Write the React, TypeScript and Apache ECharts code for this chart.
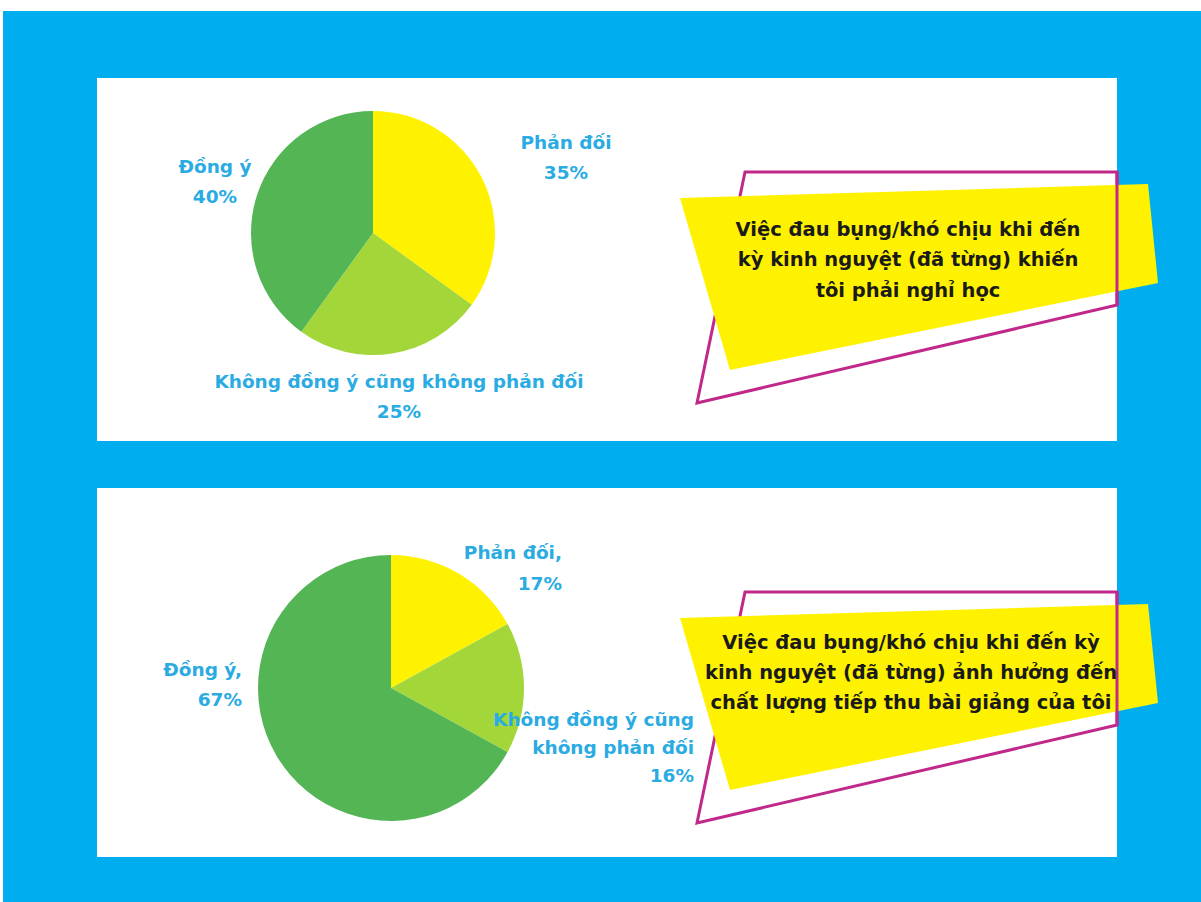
import React, { useEffect, useRef } from "react";
import * as echarts from "echarts";

const categories = ["Phản đối", "Không đồng ý cũng không phản đối", "Đồng ý"];
const values1 = [35, 25, 40];
const values2 = [17, 16, 67];
const labels1 = ["Phản đối", "Không đồng ý cũng không phản đối", "Đồng ý"];
const labels2 = ["Phản đối,", "Không đồng ý cũng\nkhông phản đối", "Đồng ý,"];
const titles = [
  ["Việc đau bụng/khó chịu khi đến", "kỳ kinh nguyệt (đã từng) khiến", "tôi phải nghỉ học"],
  ["Việc đau bụng/khó chịu khi đến kỳ", "kinh nguyệt (đã từng) ảnh hưởng đến", "chất lượng tiếp thu bài giảng của tôi"],
];
const colors = ["#FFF200", "#A3D739", "#53B554"];

const FONT = "'DejaVu Sans', sans-serif";
const LABEL_COLOR = "#2AABE2";
const MAGENTA = "#C0288A";

function callout(dy: number, lines: string[], cx: number, y0: number, lh: number) {
  return [
    {
      type: "polygon",
      z: 1,
      shape: { points: [[745, 172 + dy], [1117, 172 + dy], [1117, 305 + dy], [697, 403 + dy]] },
      style: { fill: "none", stroke: MAGENTA, lineWidth: 3 },
    },
    {
      type: "polygon",
      z: 2,
      shape: { points: [[680, 198 + dy], [1148, 184 + dy], [1158, 283 + dy], [730, 370 + dy]] },
      style: { fill: "#FFF200" },
    },
    {
      type: "line",
      z: 3,
      shape: { x1: 1117, y1: 172 + dy, x2: 1117, y2: 305 + dy },
      style: { stroke: MAGENTA, lineWidth: 3 },
    },
    ...lines.map((t, i) => ({
      type: "text",
      z: 4,
      x: cx,
      y: y0 + i * lh,
      style: {
        text: t,
        fill: "#1a1a1a",
        font: `bold 19.5px ${FONT}`,
        align: "center",
        verticalAlign: "middle",
      },
    })),
  ];
}

const pos1 = [
  { x: 566, y: 157, align: "center" },
  { x: 399, y: 396, align: "center" },
  { x: 215, y: 181, align: "center" },
];
const pos2 = [
  { x: 562, y: 568, align: "right" },
  { x: 694, y: 747, align: "right" },
  { x: 242, y: 684, align: "right" },
];

export default function App() {
  const ref = useRef<HTMLDivElement>(null);
  useEffect(() => {
    const chart = echarts.init(ref.current!, null, { renderer: "svg" });
    const mkSeries = (vals: number[], labs: string[], center: number[], r: number, pos: any[], lh: number[]) => ({
      type: "pie",
      startAngle: 90,
      clockwise: true,
      center,
      radius: r,
      avoidLabelOverlap: false,
      silent: true,
      data: categories.map((c, i) => ({
        name: c,
        value: vals[i],
        itemStyle: { color: colors[i] },
        label: { lineHeight: lh[i] },
      })),
      label: {
        show: true,
        position: "outside",
        color: LABEL_COLOR,
        fontFamily: FONT,
        fontWeight: "bold",
        fontSize: 18.5,
        formatter: (p: any) => `${labs[p.dataIndex]}\n${p.value}%`,
      },
      labelLine: { show: false },
      labelLayout: (p: any) => ({
        x: pos[p.dataIndex].x,
        y: pos[p.dataIndex].y,
        align: pos[p.dataIndex].align,
        verticalAlign: "middle",
      }),
    });
    chart.setOption({
      animation: false,
      graphic: [
        { type: "rect", z: 0, shape: { x: 3, y: 11, width: 1198, height: 891 }, style: { fill: "#00AEEF" } },
        { type: "rect", z: 0, shape: { x: 97, y: 78, width: 1020, height: 363 }, style: { fill: "#FFFFFF" } },
        { type: "rect", z: 0, shape: { x: 97, y: 488, width: 1020, height: 369 }, style: { fill: "#FFFFFF" } },
        ...callout(0, titles[0], 908, 229, 30.5),
        ...callout(420, titles[1], 911, 642, 30),
      ],
      series: [
        mkSeries(values1, labels1, [373, 233], 122, pos1, [30, 30, 30]),
        mkSeries(values2, labels2, [391, 688], 133, pos2, [31, 28, 30]),
      ],
    });
    return () => chart.dispose();
  }, []);
  return (
    <div
      ref={ref}
      style={{ position: "fixed", left: 0, top: 0, width: 1201, height: 902, background: "#fff" }}
    />
  );
}
